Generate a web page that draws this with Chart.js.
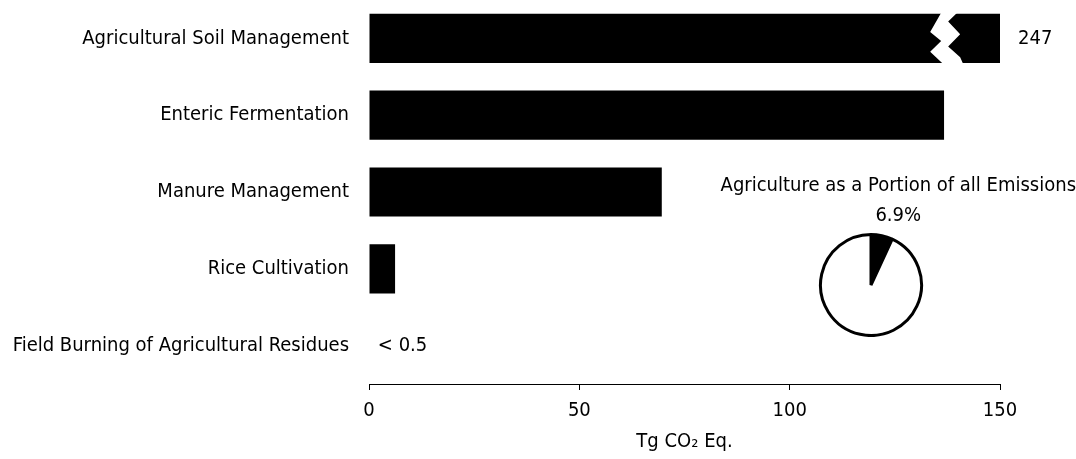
<!DOCTYPE html>
<html>
<head>
<meta charset="utf-8">
<script src="https://cdn.jsdelivr.net/npm/chart.js@4.4.1/dist/chart.umd.min.js"></script>
<style>
    body { margin: 0; background: #fff; }
    #wrap { position: relative; width: 1076px; height: 459px; }
    #mainChart { position: absolute; left: 0; top: 0; }
    #pieChart { position: absolute; left: 666px; top: 170px; }
</style>
</head>
<body>
<div id="wrap">
    <canvas id="mainChart" width="1076" height="459"></canvas>
    <canvas id="pieChart" width="410" height="167"></canvas>
</div>
<script>
const categories = [
    'Agricultural Soil Management',
    'Enteric Fermentation',
    'Manure Management',
    'Rice Cultivation',
    'Field Burning of Agricultural Residues'
];
const emissions = [247, 136.7, 69.6, 6.2, 0.2];
const valueLabels = ['247', '', '', '', '< 0.5'];
const xTicks = [0, 50, 100, 150];
const axisTitle = 'Tg CO\u2082 Eq.';

const pieLabels = ['Agriculture', 'All other emissions'];
const pieValues = [6.9, 93.1];
const pieTitle = 'Agriculture as a Portion of all Emissions';
const pieLabel = '6.9%';

const fontFamily = "'DejaVu Sans Condensed', 'DejaVu Sans', sans-serif";
const textColor = '#000';

// white zigzag over the bar that runs past the end of the axis
const breakPlugin = {
    id: 'barBreak',
    afterDatasetsDraw(chart) {
        const ctx = chart.ctx;
        const xScale = chart.scales.x;
        const meta = chart.getDatasetMeta(0);
        const breakAt = 133.4;
        meta.data.forEach((bar, i) => {
            if (emissions[i] <= xScale.max) return;
            const x0 = xScale.getPixelForValue(breakAt);
            const top = bar.y - bar.height / 2 - 1;
            const h = bar.height + 2;
            const leftEdge = [[11, 0], [0, 0.375], [11, 0.55], [0, 0.76], [13, 1]];
            const rightEdge = [[27, 0], [18, 0.17], [30, 0.42], [18, 0.66], [30, 0.87], [33, 1]];
            ctx.save();
            ctx.fillStyle = '#fff';
            ctx.beginPath();
            leftEdge.forEach((p, k) => {
                const px = x0 + p[0], py = top + p[1] * h;
                if (k === 0) ctx.moveTo(px, py); else ctx.lineTo(px, py);
            });
            for (let k = rightEdge.length - 1; k >= 0; k--) {
                ctx.lineTo(x0 + rightEdge[k][0], top + rightEdge[k][1] * h);
            }
            ctx.closePath();
            ctx.fill();
            ctx.restore();
        });

        // value labels next to the bars
        ctx.save();
        ctx.font = '20px ' + fontFamily;
        ctx.fillStyle = textColor;
        ctx.textAlign = 'left';
        ctx.textBaseline = 'middle';
        meta.data.forEach((bar, i) => {
            if (!valueLabels[i]) return;
            const clipped = bar.x > chart.chartArea.right;
            const endX = Math.min(bar.x, chart.chartArea.right);
            ctx.fillText(valueLabels[i], endX + (clipped ? 18 : 8), bar.y);
        });
        ctx.restore();
    }
};

// percentage written above the black slice
const sliceLabelPlugin = {
    id: 'sliceLabel',
    afterDatasetsDraw(chart) {
        const arc = chart.getDatasetMeta(0).data[0];
        if (!arc) return;
        const ctx = chart.ctx;
        ctx.save();
        ctx.font = '20px ' + fontFamily;
        ctx.fillStyle = textColor;
        ctx.textAlign = 'center';
        ctx.textBaseline = 'middle';
        ctx.fillText(pieLabel, arc.x + arc.outerRadius * 0.54, arc.y - arc.outerRadius - 19);
        ctx.restore();
    }
};

const mainChart = new Chart(document.getElementById('mainChart'), {
    type: 'bar',
    data: {
        labels: categories,
        datasets: [{
            label: 'Emissions',
            data: emissions,
            // values under 0.5 are too thin to show in the original
            backgroundColor: emissions.map(v => v < 0.5 ? 'rgba(0,0,0,0)' : '#000'),
            borderWidth: 0,
            barPercentage: 0.64,
            categoryPercentage: 1
        }]
    },
    options: {
        indexAxis: 'y',
        responsive: false,
        animation: false,
        layout: { padding: { top: 0, right: 76, bottom: 0, left: 0 } },
        plugins: {
            legend: { display: false },
            tooltip: { enabled: false }
        },
        scales: {
            x: {
                min: 0,
                max: 150,
                afterBuildTicks: (s) => { s.ticks = xTicks.map(v => ({ value: v })); },
                afterFit: (s) => { s.height = 75; },
                border: { display: true, color: '#000', width: 1 },
                grid: { display: true, drawOnChartArea: false, drawTicks: true, tickLength: 6, color: '#000' },
                ticks: { color: textColor, font: { family: fontFamily, size: 20 }, padding: 9, maxRotation: 0 },
                title: {
                    display: true,
                    text: axisTitle,
                    color: textColor,
                    font: { family: fontFamily, size: 20 },
                    padding: { top: 0, bottom: 5 }
                }
            },
            y: {
                afterFit: (s) => {
                    s.width = 369;
                    s.paddingTop = 0;
                    s.paddingBottom = 0;
                },
                border: { display: false },
                grid: { display: false },
                ticks: { color: textColor, font: { family: fontFamily, size: 20 }, padding: 12 }
            }
        }
    },
    plugins: [breakPlugin]
});

const pieChart = new Chart(document.getElementById('pieChart'), {
    type: 'pie',
    data: {
        labels: pieLabels,
        datasets: [{
            data: pieValues,
            backgroundColor: ['#000', '#fff'],
            borderColor: '#000',
            borderWidth: 3
        }]
    },
    options: {
        responsive: false,
        animation: false,
        layout: { padding: 0 },
        plugins: {
            legend: { display: false },
            tooltip: { enabled: false },
            title: {
                display: true,
                text: pieTitle,
                align: 'end',
                color: textColor,
                font: { family: fontFamily, size: 20, weight: 'normal' },
                padding: { top: 4, bottom: 35 }
            }
        }
    },
    plugins: [sliceLabelPlugin]
});
</script>
</body>
</html>
